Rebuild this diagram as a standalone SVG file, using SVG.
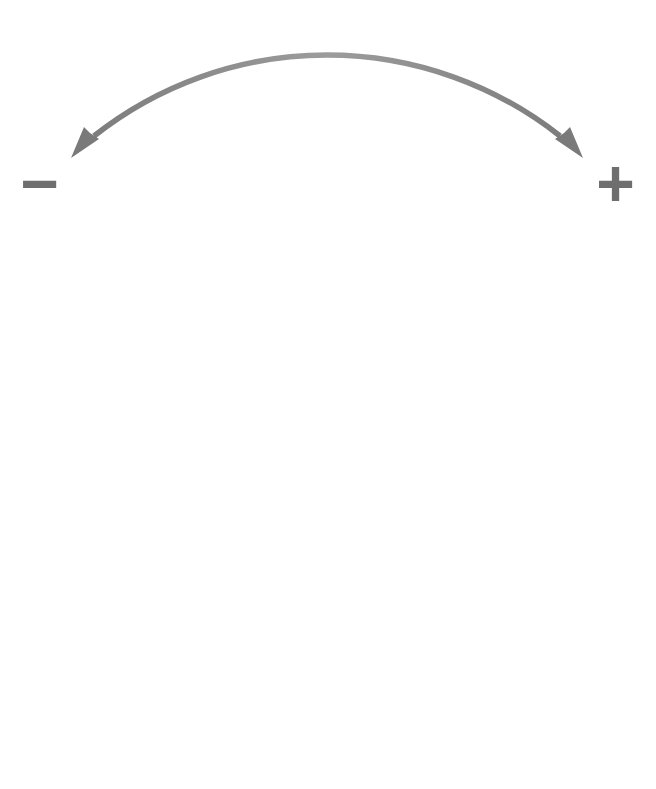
<svg xmlns="http://www.w3.org/2000/svg" width="656" height="789" viewBox="0 0 656 789">
<defs>
<linearGradient id="g" x1="71" y1="0" x2="583" y2="0" gradientUnits="userSpaceOnUse">
<stop offset="0" stop-color="#7a7a7a"/>
<stop offset="0.5" stop-color="#9c9c9c"/>
<stop offset="1" stop-color="#7a7a7a"/>
</linearGradient>
<style>
.sign{font-family:"Liberation Sans",Arial,sans-serif;font-weight:bold;font-size:66px;fill:#6e6e6e;text-anchor:middle}
.head{fill:#7a7a7a}
</style>
</defs>
<rect width="656" height="789" fill="#ffffff"/>
<g id="connectors">
<path d="M94,136 A375.7,375.7 0 0 1 560,136" fill="none" stroke="url(#g)" stroke-width="5.5"/>
<polygon class="head" points="71,158 84,127 90,133 99,139"/>
<polygon class="head" points="583,158 570,127 564,133 555,139"/>
</g>
<g id="minus"><text class="sign" x="39.5" y="206">−</text></g>
<g id="plus"><text class="sign" x="615.5" y="206">+</text></g>
</svg>
